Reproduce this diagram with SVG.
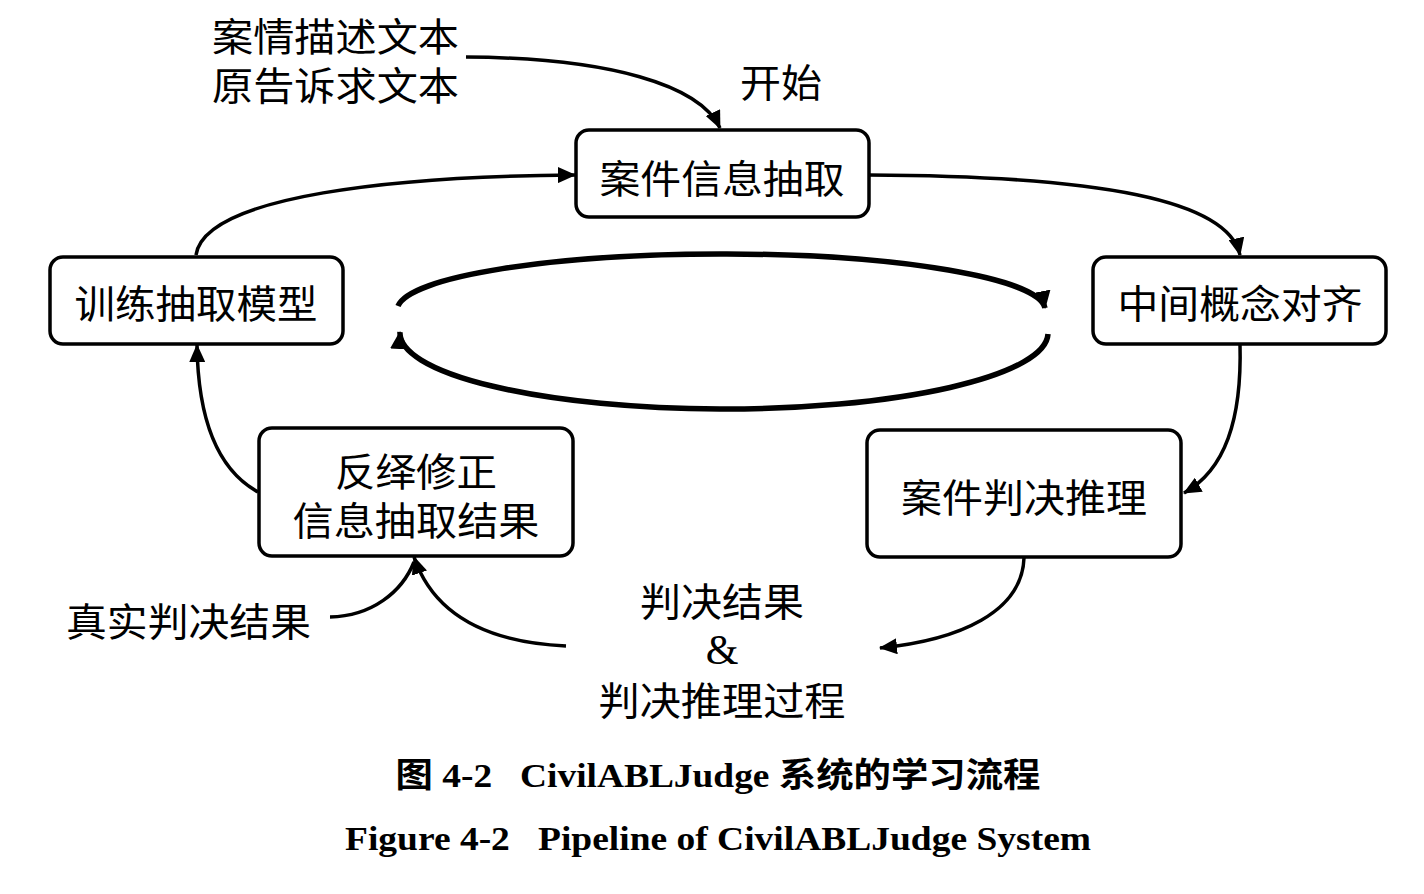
<svg xmlns="http://www.w3.org/2000/svg" width="1424" height="894" viewBox="0 0 1424 894">
<style>
.box{fill:#fff;stroke:#000;stroke-width:3.5}
.t{font-family:"Noto Sans CJK SC","Noto Sans",sans-serif;font-size:39px;fill:#000;text-anchor:middle;dominant-baseline:central}
.tl{font-family:"Noto Sans CJK SC","Noto Sans",sans-serif;font-size:39px;fill:#000;dominant-baseline:central}
.amp{font-family:"Liberation Serif",serif;font-size:42px;fill:#000;text-anchor:middle;dominant-baseline:central}
.cap{font-family:"Liberation Serif","Noto Sans CJK SC",serif;font-weight:bold;font-size:34px;fill:#000;text-anchor:middle}
.c{fill:none;stroke:#000;stroke-width:3.5}
.e{fill:none;stroke:#000;stroke-width:5.5}
</style>
<defs>
<marker id="ah" markerUnits="userSpaceOnUse" markerWidth="20" markerHeight="16" refX="17" refY="8" orient="auto">
<path d="M0,0 L18,8 L0,16 Z" fill="#000"/>
</marker>
<marker id="ahb" markerUnits="userSpaceOnUse" markerWidth="20" markerHeight="18" refX="17" refY="9" orient="auto">
<path d="M0,0 L18,9 L0,18 Z" fill="#000"/>
</marker>
</defs>
<rect width="1424" height="894" fill="#fff"/>
<g id="connectors">
<path class="c" d="M466,57 C610,58 700,85 720,128" marker-end="url(#ah)"/>
<path class="c" d="M196,255 C205,195 400,176 575,175" marker-end="url(#ah)"/>
<path class="c" d="M869,175 C1100,176 1228,200 1240,255" marker-end="url(#ah)"/>
<path class="c" d="M1240,344 C1242,420 1225,470 1184,493" marker-end="url(#ah)"/>
<path class="c" d="M1024,558 C1022,612 960,640 880,648" marker-end="url(#ah)"/>
<path class="c" d="M566,646 C480,642 432,610 414,557" marker-end="url(#ah)"/>
<path class="c" d="M330,617 C372,616 402,592 414,562"/>
<path class="c" d="M258,492 C218,470 198,420 197,345" marker-end="url(#ah)"/>
<path class="e" d="M398,306 A324,56 0 0 1 1045,308" marker-end="url(#ahb)"/>
<path class="e" d="M1048,334 A324,76 0 0 1 400,332" marker-end="url(#ahb)"/>
</g>
<g id="n1"><rect class="box" x="576" y="130" width="293" height="87" rx="13"/><text class="t" x="722" y="176" textLength="245" lengthAdjust="spacingAndGlyphs">案件信息抽取</text></g>
<g id="n2"><rect class="box" x="50" y="257" width="293" height="87" rx="13"/><text class="t" x="196" y="301" textLength="243" lengthAdjust="spacingAndGlyphs">训练抽取模型</text></g>
<g id="n3"><rect class="box" x="1093" y="257" width="293" height="87" rx="13"/><text class="t" x="1240" y="301" textLength="245" lengthAdjust="spacingAndGlyphs">中间概念对齐</text></g>
<g id="n4"><rect class="box" x="259" y="428" width="314" height="128" rx="13"/><text class="t" x="416" y="469" textLength="162" lengthAdjust="spacingAndGlyphs">反绎修正</text><text class="t" x="416" y="518" textLength="247" lengthAdjust="spacingAndGlyphs">信息抽取结果</text></g>
<g id="n5"><rect class="box" x="867" y="430" width="314" height="127" rx="13"/><text class="t" x="1024" y="495" textLength="246" lengthAdjust="spacingAndGlyphs">案件判决推理</text></g>
<g id="labels">
<text class="tl" x="212" y="34" textLength="247" lengthAdjust="spacingAndGlyphs">案情描述文本</text>
<text class="tl" x="212" y="83" textLength="247" lengthAdjust="spacingAndGlyphs">原告诉求文本</text>
<text class="tl" x="740" y="80" textLength="82" lengthAdjust="spacingAndGlyphs">开始</text>
<text class="tl" x="66" y="619" textLength="245" lengthAdjust="spacingAndGlyphs">真实判决结果</text>
<text class="t" x="722" y="599" textLength="164" lengthAdjust="spacingAndGlyphs">判决结果</text>
<text class="amp" x="722" y="650">&amp;</text>
<text class="t" x="722" y="698" textLength="247" lengthAdjust="spacingAndGlyphs">判决推理过程</text>
</g>
<g id="caption">
<text class="cap" x="718" y="787" xml:space="preserve" textLength="645" lengthAdjust="spacingAndGlyphs">图 4-2   CivilABLJudge 系统的学习流程</text>
<text class="cap" x="718" y="850" xml:space="preserve" textLength="746" lengthAdjust="spacingAndGlyphs">Figure 4-2   Pipeline of CivilABLJudge System</text>
</g>
</svg>
